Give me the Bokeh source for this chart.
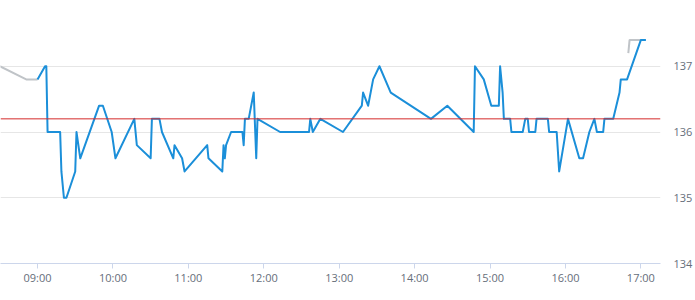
from datetime import datetime
from bokeh.plotting import figure
from bokeh.models import Range1d, LinearAxis, DatetimeAxis, FixedTicker, Span, CustomJSTickFormatter, Grid
from bokeh.embed import file_html
from bokeh.resources import INLINE

DAY = "2020-01-02 "

pre_times = ["08:30", "08:51", "09:00"]
pre_values = [137.0, 136.8, 136.8]

post_times = ["16:50", "16:51", "17:00"]
post_values = [137.2, 137.4, 137.4]

main_times = [
    "09:00", "09:06", "09:07", "09:08", "09:18", "09:19", "09:21", "09:23", "09:30", "09:31",
    "09:34", "09:49", "09:52", "09:59", "10:02", "10:17", "10:19", "10:30", "10:31", "10:37",
    "10:39", "10:48", "10:49", "10:55", "10:57", "11:15", "11:16", "11:27", "11:28", "11:29",
    "11:30", "11:34", "11:43", "11:44", "11:45", "11:48", "11:52", "11:54", "11:55", "12:13",
    "12:36", "12:37", "12:39", "12:45", "13:03", "13:18", "13:19", "13:23", "13:27", "13:32",
    "13:41", "14:13", "14:26", "14:47", "14:48", "14:55", "15:01", "15:07", "15:08", "15:10",
    "15:11", "15:16", "15:17", "15:26", "15:28", "15:30", "15:31", "15:36", "15:37", "15:46",
    "15:47", "15:53", "15:55", "16:02", "16:11", "16:14", "16:19", "16:23", "16:25", "16:30",
    "16:31", "16:38", "16:43", "16:44", "16:49", "17:00", "17:04",
]
main_values = [
    136.8, 137.0, 137.0, 136.0, 136.0, 135.4, 135.0, 135.0, 135.4, 136.0,
    135.6, 136.4, 136.4, 136.0, 135.6, 136.2, 135.8, 135.6, 136.2, 136.2,
    136.0, 135.6, 135.8, 135.6, 135.4, 135.8, 135.6, 135.4, 135.8, 135.6,
    135.8, 136.0, 136.0, 135.8, 136.2, 136.2, 136.6, 135.6, 136.2, 136.0,
    136.0, 136.2, 136.0, 136.2, 136.0, 136.4, 136.6, 136.4, 136.8, 137.0,
    136.6, 136.2, 136.4, 136.0, 137.0, 136.8, 136.4, 136.4, 137.0, 136.6,
    136.2, 136.2, 136.0, 136.0, 136.2, 136.2, 136.0, 136.0, 136.2, 136.2,
    136.0, 136.0, 135.4, 136.2, 135.6, 135.6, 136.0, 136.2, 136.0, 136.0,
    136.2, 136.2, 136.6, 136.8, 136.8, 137.4, 137.4,
]

reference_price = 136.2

tick_labels = ["09:00", "10:00", "11:00", "12:00", "13:00", "14:00", "15:00", "16:00", "17:00"]
y_ticks = [134, 135, 136, 137]
grid_ticks = [135, 136, 137]

x_start = "08:30:33"
x_end = "17:15:36"


def to_dt(s):
    fmt = "%Y-%m-%d %H:%M:%S" if s.count(":") == 2 else "%Y-%m-%d %H:%M"
    return datetime.strptime(DAY + s, fmt)


def to_ms(d):
    return (d - datetime(1970, 1, 1)).total_seconds() * 1000.0


p = figure(
    width=695, height=300,
    x_axis_type=None, y_axis_location=None,
    output_backend="svg", toolbar_location=None,
    min_border_left=0, min_border_top=0, min_border_right=30, min_border_bottom=37,
)
p.outline_line_color = None
p.background_fill_color = "white"
p.border_fill_color = "white"

p.x_range = Range1d(to_dt(x_start), to_dt(x_end))
p.y_range = Range1d(134, 138)

label_color = "#666e7a"
font = "Open Sans"

xaxis = DatetimeAxis()
xaxis.ticker = FixedTicker(ticks=[to_ms(to_dt(t)) for t in tick_labels])
xaxis.formatter = CustomJSTickFormatter(code="""
const d = new Date(tick);
const h = String(d.getUTCHours()).padStart(2, '0');
const m = String(d.getUTCMinutes()).padStart(2, '0');
return h + ':' + m;
""")
xaxis.axis_line_color = "#ccd6eb"
xaxis.major_tick_line_color = "#ccd6eb"
xaxis.major_tick_out = 5
xaxis.major_tick_in = 0
xaxis.minor_tick_line_color = None
xaxis.major_label_text_color = label_color
xaxis.major_label_text_font = font
xaxis.major_label_text_font_size = "11px"
xaxis.major_label_standoff = 1
p.add_layout(xaxis, "below")

yaxis = LinearAxis()
yaxis.ticker = FixedTicker(ticks=y_ticks)
yaxis.axis_line_color = None
yaxis.major_tick_line_color = None
yaxis.minor_tick_line_color = None
yaxis.major_tick_out = 0
yaxis.major_tick_in = 0
yaxis.major_label_text_color = label_color
yaxis.major_label_text_font = font
yaxis.major_label_text_font_size = "11px"
yaxis.major_label_standoff = 13
p.add_layout(yaxis, "right")

p.xgrid.visible = False
p.ygrid.visible = False
ygrid = Grid(dimension=1, ticker=FixedTicker(ticks=grid_ticks), grid_line_color="#e6e6e6", grid_line_width=1)
p.add_layout(ygrid)

p.line([to_dt(t) for t in pre_times], pre_values, line_color="#c0c4c8", line_width=2)
p.line([to_dt(t) for t in post_times], post_values, line_color="#c0c4c8", line_width=2)
p.line([to_dt(t) for t in main_times], main_values, line_color="#1b8fd9", line_width=2, line_join="round")

p.add_layout(Span(location=reference_price, dimension="width", line_color="#d42a2a", line_width=1))

open("out.html", "w").write(file_html(p, INLINE))
